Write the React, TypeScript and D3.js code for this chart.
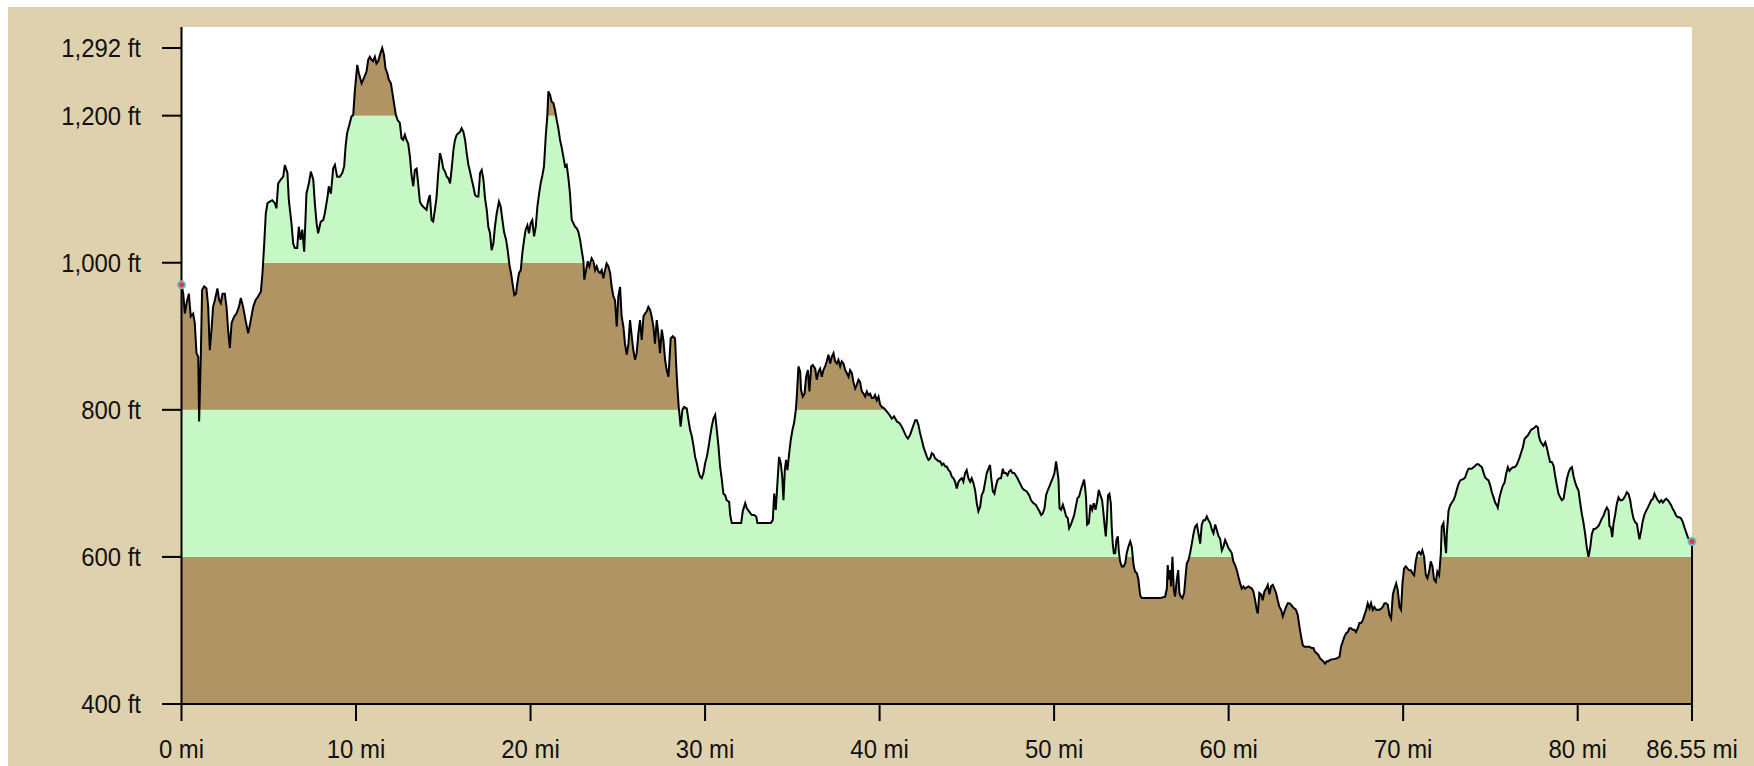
import React from 'react';
import * as d3 from 'd3';

const W = 1754;
const H = 766;

// Elevation profile: [distance (mi), elevation (ft)]
const profile: [number, number][] = [
  [0, 970], [0.1, 958], [0.19, 931], [0.29, 945], [0.42, 958], [0.53, 927], [0.67, 931], [0.76, 918],
  [0.86, 877], [0.96, 872], [1.01, 784], [1.11, 877], [1.18, 963], [1.3, 968], [1.43, 965], [1.53, 940],
  [1.62, 881], [1.72, 909], [1.81, 940], [1.91, 949], [2.06, 965], [2.16, 949], [2.25, 945], [2.35, 958],
  [2.48, 958], [2.58, 940], [2.67, 909], [2.77, 884], [2.87, 918], [3.02, 927], [3.15, 931], [3.29, 940],
  [3.4, 952], [3.53, 940], [3.67, 922], [3.82, 904], [3.97, 922], [4.11, 940], [4.24, 949], [4.39, 954],
  [4.55, 961], [4.64, 986], [4.74, 1026], [4.83, 1067], [4.93, 1081], [5.06, 1083], [5.2, 1085], [5.35, 1081],
  [5.44, 1074], [5.54, 1108], [5.69, 1113], [5.83, 1117], [5.92, 1133], [6.07, 1122], [6.15, 1085], [6.3, 1054],
  [6.4, 1026], [6.49, 1020], [6.63, 1020], [6.72, 1049], [6.82, 1031], [6.92, 1045], [7.03, 1015], [7.16, 1094],
  [7.3, 1108], [7.41, 1124], [7.55, 1113], [7.64, 1081], [7.74, 1054], [7.83, 1040], [7.98, 1056], [8.12, 1058],
  [8.21, 1067], [8.37, 1090], [8.44, 1104], [8.56, 1094], [8.69, 1128], [8.79, 1133], [8.92, 1117], [9.07, 1117],
  [9.21, 1122], [9.32, 1131], [9.4, 1158], [9.49, 1176], [9.61, 1187], [9.74, 1199], [9.84, 1201], [9.93, 1233],
  [10.07, 1269], [10.16, 1258], [10.32, 1244], [10.45, 1251], [10.6, 1260], [10.7, 1276], [10.79, 1280], [10.89, 1276],
  [10.98, 1274], [11.08, 1280], [11.17, 1271], [11.27, 1274], [11.4, 1285], [11.5, 1292], [11.6, 1283], [11.69, 1264],
  [11.79, 1258], [11.88, 1249], [12.0, 1244], [12.09, 1230], [12.19, 1215], [12.28, 1201], [12.38, 1194], [12.51, 1190],
  [12.61, 1169], [12.7, 1167], [12.8, 1174], [12.89, 1167], [12.99, 1162], [13.09, 1144], [13.18, 1119], [13.28, 1104],
  [13.37, 1126], [13.47, 1128], [13.56, 1108], [13.66, 1083], [13.75, 1079], [13.85, 1076], [13.94, 1074], [14.04, 1072],
  [14.14, 1085], [14.23, 1092], [14.33, 1058], [14.42, 1056], [14.52, 1072], [14.61, 1088], [14.71, 1122],
  [14.81, 1149], [14.91, 1140], [15.0, 1128], [15.1, 1124], [15.2, 1117], [15.29, 1115], [15.39, 1108], [15.48, 1128],
  [15.58, 1153], [15.67, 1167], [15.77, 1174], [15.86, 1176], [15.96, 1178], [16.05, 1183], [16.15, 1178], [16.25, 1167],
  [16.34, 1149], [16.44, 1133], [16.53, 1124], [16.63, 1113], [16.72, 1104], [16.82, 1092], [16.91, 1090], [17.01, 1090],
  [17.11, 1122], [17.2, 1126], [17.3, 1113], [17.39, 1088], [17.49, 1072], [17.58, 1049], [17.68, 1040], [17.77, 1017],
  [17.87, 1026], [17.96, 1049], [18.06, 1067], [18.19, 1083], [18.29, 1076], [18.39, 1058], [18.48, 1042], [18.6, 1031],
  [18.69, 1017], [18.79, 997], [18.88, 986], [18.98, 970], [19.07, 956], [19.17, 958], [19.24, 972], [19.34, 986],
  [19.44, 990], [19.53, 1013], [19.63, 1031], [19.72, 1045], [19.82, 1051], [19.91, 1040], [20.01, 1054], [20.1, 1058],
  [20.2, 1036], [20.3, 1049], [20.39, 1076], [20.49, 1094], [20.58, 1108], [20.68, 1119], [20.77, 1131], [20.87, 1172],
  [20.96, 1199], [21.02, 1233], [21.12, 1228], [21.21, 1219], [21.31, 1217], [21.4, 1208], [21.5, 1194], [21.59, 1183],
  [21.69, 1167], [21.79, 1156], [21.88, 1144], [21.98, 1131], [22.07, 1133], [22.17, 1115], [22.26, 1094], [22.36, 1058],
  [22.45, 1054], [22.55, 1049], [22.64, 1047], [22.74, 1042], [22.84, 1031], [22.93, 1017], [23.03, 1002], [23.08, 977],
  [23.18, 990], [23.28, 1002], [23.37, 995], [23.5, 1006], [23.6, 1002], [23.7, 990], [23.79, 995], [23.89, 988],
  [23.98, 986], [24.08, 990], [24.17, 979], [24.27, 990], [24.36, 999], [24.46, 995], [24.56, 986], [24.65, 967],
  [24.75, 954], [24.84, 949], [24.94, 913], [25.03, 954], [25.13, 967], [25.22, 927], [25.32, 913], [25.41, 890],
  [25.51, 875], [25.61, 890], [25.7, 922], [25.8, 900], [25.89, 881], [25.99, 868], [26.08, 877], [26.18, 904],
  [26.27, 922], [26.37, 895], [26.47, 927], [26.56, 931], [26.66, 934], [26.75, 940], [26.85, 936], [26.94, 927],
  [27.04, 913], [27.13, 890], [27.23, 922], [27.32, 904], [27.42, 877], [27.52, 909], [27.61, 895], [27.71, 868],
  [27.8, 854], [27.9, 845], [27.96, 868], [28.03, 897], [28.15, 900], [28.28, 897], [28.34, 863], [28.41, 832],
  [28.49, 804], [28.6, 777], [28.7, 800], [28.8, 804], [28.95, 802], [29.05, 786], [29.14, 773], [29.24, 764],
  [29.33, 752], [29.43, 736], [29.53, 727], [29.62, 716], [29.72, 709], [29.81, 707], [29.91, 714], [30.0, 727],
  [30.1, 736], [30.19, 748], [30.29, 764], [30.38, 777], [30.48, 788], [30.58, 793], [30.67, 773], [30.77, 750],
  [30.86, 723], [30.96, 705], [31.05, 686], [31.15, 684], [31.24, 677], [31.38, 675], [31.44, 657], [31.53, 646],
  [31.72, 646], [31.91, 646], [32.07, 646], [32.16, 662], [32.3, 673], [32.39, 666], [32.52, 662], [32.68, 657],
  [32.81, 657], [32.93, 655], [33.0, 646], [33.25, 646], [33.54, 646], [33.77, 646], [33.88, 650], [33.96, 686],
  [34.05, 664], [34.15, 702], [34.24, 736], [34.34, 727], [34.42, 709], [34.49, 677], [34.57, 718], [34.64, 732],
  [34.72, 718], [34.82, 741], [34.91, 759], [35.01, 773], [35.1, 782], [35.2, 800], [35.26, 820], [35.35, 859],
  [35.45, 852], [35.5, 827], [35.6, 818], [35.7, 822], [35.79, 845], [35.89, 854], [35.98, 825], [36.08, 859],
  [36.17, 861], [36.31, 856], [36.4, 841], [36.5, 852], [36.59, 856], [36.69, 845], [36.78, 854], [36.88, 859],
  [36.97, 866], [37.07, 875], [37.17, 863], [37.26, 872], [37.36, 877], [37.45, 866], [37.55, 863], [37.64, 868],
  [37.74, 859], [37.83, 866], [37.93, 863], [38.03, 854], [38.12, 850], [38.22, 845], [38.31, 854], [38.41, 850],
  [38.5, 838], [38.6, 829], [38.69, 834], [38.79, 841], [38.88, 838], [38.98, 825], [39.08, 822], [39.17, 818],
  [39.27, 825], [39.36, 820], [39.46, 822], [39.55, 816], [39.65, 816], [39.74, 820], [39.84, 813], [39.94, 818],
  [40.03, 807], [40.13, 804], [40.26, 802], [40.41, 798], [40.57, 793], [40.7, 788], [40.83, 791], [40.99, 784],
  [41.14, 782], [41.27, 777], [41.41, 770], [41.52, 764], [41.62, 761], [41.75, 766], [41.85, 773], [41.94, 779],
  [42.04, 786], [42.13, 786], [42.23, 779], [42.32, 768], [42.42, 759], [42.51, 750], [42.61, 743], [42.71, 736],
  [42.8, 732], [42.9, 734], [42.99, 741], [43.09, 739], [43.18, 734], [43.28, 732], [43.37, 730], [43.47, 730],
  [43.57, 725], [43.66, 727], [43.76, 723], [43.85, 723], [43.95, 718], [44.04, 716], [44.14, 709], [44.23, 707],
  [44.33, 702], [44.42, 693], [44.52, 702], [44.61, 705], [44.71, 707], [44.8, 702], [44.9, 714], [44.99, 718],
  [45.09, 707], [45.19, 702], [45.28, 707], [45.38, 700], [45.47, 691], [45.57, 673], [45.66, 662], [45.76, 668],
  [45.85, 684], [45.95, 689], [46.05, 702], [46.14, 714], [46.24, 720], [46.33, 725], [46.39, 709], [46.49, 689],
  [46.58, 686], [46.68, 698], [46.77, 705], [46.87, 707], [46.96, 707], [47.06, 720], [47.13, 714], [47.23, 714],
  [47.33, 711], [47.42, 716], [47.52, 718], [47.61, 714], [47.71, 714], [47.8, 711], [47.9, 707], [48.0, 702],
  [48.09, 698], [48.19, 693], [48.28, 691], [48.43, 689], [48.57, 684], [48.68, 677], [48.82, 673], [48.95, 671],
  [49.06, 666], [49.16, 662], [49.26, 657], [49.35, 659], [49.45, 666], [49.54, 684], [49.64, 691], [49.73, 696],
  [49.83, 702], [49.92, 707], [50.02, 714], [50.11, 730], [50.17, 720], [50.25, 705], [50.31, 666], [50.4, 664],
  [50.5, 671], [50.59, 664], [50.69, 655], [50.78, 653], [50.86, 639], [50.96, 644], [51.05, 650], [51.15, 657],
  [51.24, 668], [51.34, 680], [51.43, 682], [51.53, 691], [51.62, 698], [51.72, 705], [51.78, 693], [51.83, 680],
  [51.89, 644], [51.99, 646], [52.08, 671], [52.18, 664], [52.27, 673], [52.37, 664], [52.46, 675], [52.56, 691],
  [52.65, 684], [52.75, 677], [52.83, 659], [52.9, 641], [52.96, 628], [53.02, 650], [53.09, 684], [53.17, 686],
  [53.25, 673], [53.3, 641], [53.36, 618], [53.42, 605], [53.5, 605], [53.57, 623], [53.65, 628], [53.71, 607],
  [53.78, 594], [53.88, 587], [53.97, 587], [54.07, 591], [54.16, 605], [54.26, 614], [54.36, 621], [54.45, 614],
  [54.55, 589], [54.64, 580], [54.74, 578], [54.83, 569], [54.93, 548], [55.02, 544], [55.31, 544], [55.69, 544],
  [56.07, 544], [56.36, 546], [56.46, 557], [56.51, 589], [56.57, 569], [56.65, 582], [56.7, 560], [56.78, 600],
  [56.86, 555], [56.93, 546], [57.03, 569], [57.11, 582], [57.18, 551], [57.26, 546], [57.35, 544], [57.45, 551],
  [57.53, 573], [57.6, 591], [57.7, 596], [57.79, 605], [57.89, 618], [57.99, 632], [58.08, 641], [58.18, 644],
  [58.27, 632], [58.37, 618], [58.46, 644], [58.56, 650], [58.65, 650], [58.75, 655], [58.84, 650], [58.94, 646],
  [59.04, 637], [59.13, 632], [59.23, 644], [59.32, 637], [59.42, 628], [59.51, 625], [59.61, 609], [59.7, 614],
  [59.8, 623], [59.89, 618], [59.99, 612], [60.08, 609], [60.18, 605], [60.27, 594], [60.37, 589], [60.47, 582],
  [60.56, 573], [60.66, 564], [60.75, 557], [60.85, 560], [60.94, 557], [61.13, 560], [61.33, 557], [61.42, 553],
  [61.52, 541], [61.61, 528], [61.67, 523], [61.76, 551], [61.86, 549], [61.95, 541], [62.05, 553], [62.15, 557],
  [62.24, 562], [62.34, 549], [62.43, 560], [62.53, 562], [62.62, 557], [62.72, 551], [62.81, 541], [62.91, 532],
  [63.01, 528], [63.1, 519], [63.2, 526], [63.29, 532], [63.39, 537], [63.48, 537], [63.58, 535], [63.67, 532],
  [63.77, 530], [63.86, 528], [63.96, 521], [64.06, 505], [64.15, 492], [64.25, 480], [64.34, 478], [64.48, 478],
  [64.63, 478], [64.76, 476], [64.86, 476], [64.95, 471], [65.05, 469], [65.14, 467], [65.24, 462], [65.34, 460],
  [65.43, 458], [65.53, 455], [65.62, 458], [65.72, 458], [65.81, 460], [66.01, 461], [66.2, 462], [66.35, 464],
  [66.44, 478], [66.54, 485], [66.64, 492], [66.73, 496], [66.83, 498], [66.92, 503], [67.02, 503], [67.11, 501],
  [67.21, 501], [67.3, 498], [67.4, 503], [67.49, 510], [67.59, 510], [67.69, 514], [67.78, 521], [67.88, 528],
  [67.97, 537], [68.07, 530], [68.16, 537], [68.26, 528], [68.35, 532], [68.45, 528], [68.55, 528], [68.64, 528],
  [68.74, 530], [68.83, 532], [68.93, 537], [69.02, 537], [69.12, 535], [69.21, 521], [69.31, 516], [69.41, 549],
  [69.5, 557], [69.6, 564], [69.69, 555], [69.79, 532], [69.88, 528], [69.96, 564], [70.05, 584], [70.15, 587],
  [70.25, 584], [70.34, 582], [70.44, 582], [70.53, 578], [70.63, 575], [70.72, 594], [70.82, 605], [70.91, 607],
  [71.01, 603], [71.1, 609], [71.2, 600], [71.3, 575], [71.39, 571], [71.49, 580], [71.58, 594], [71.68, 587],
  [71.77, 569], [71.87, 566], [71.96, 580], [72.06, 575], [72.16, 605], [72.21, 641], [72.31, 646], [72.4, 618],
  [72.46, 605], [72.5, 631], [72.6, 663], [72.69, 670], [72.79, 674], [72.88, 677], [72.98, 683], [73.08, 692],
  [73.17, 699], [73.27, 704], [73.36, 705], [73.46, 706], [73.55, 708], [73.65, 715], [73.74, 720], [73.84, 720],
  [73.93, 720], [74.03, 722], [74.13, 724], [74.22, 726], [74.32, 726], [74.41, 724], [74.51, 722], [74.6, 715],
  [74.7, 708], [74.79, 706], [74.89, 704], [74.99, 697], [75.08, 688], [75.18, 681], [75.27, 674], [75.37, 670],
  [75.42, 667], [75.52, 681], [75.62, 690], [75.71, 697], [75.81, 701], [75.9, 713], [76.0, 722], [76.09, 717],
  [76.19, 720], [76.28, 722], [76.38, 722], [76.48, 724], [76.57, 729], [76.67, 735], [76.76, 742], [76.86, 749],
  [76.95, 760], [77.05, 763], [77.14, 765], [77.24, 769], [77.33, 773], [77.43, 774], [77.53, 776], [77.62, 778],
  [77.72, 776], [77.77, 765], [77.85, 758], [77.95, 754], [78.04, 751], [78.14, 756], [78.23, 749], [78.33, 738],
  [78.42, 729], [78.52, 729], [78.62, 724], [78.71, 710], [78.81, 697], [78.9, 686], [79.0, 681], [79.09, 677],
  [79.19, 679], [79.28, 692], [79.38, 706], [79.48, 715], [79.57, 720], [79.67, 722], [79.76, 710], [79.86, 701],
  [79.95, 695], [80.05, 690], [80.14, 674], [80.24, 658], [80.33, 647], [80.43, 631], [80.52, 613], [80.62, 600],
  [80.72, 613], [80.81, 631], [80.91, 638], [81.0, 638], [81.1, 640], [81.19, 642], [81.29, 647], [81.38, 652],
  [81.48, 656], [81.58, 663], [81.67, 667], [81.77, 663], [81.82, 642], [81.9, 640], [81.98, 627], [82.05, 645],
  [82.15, 658], [82.24, 672], [82.34, 681], [82.44, 677], [82.53, 677], [82.63, 679], [82.72, 683], [82.82, 688],
  [82.91, 686], [83.01, 677], [83.1, 663], [83.2, 652], [83.3, 647], [83.39, 645], [83.49, 631], [83.54, 624],
  [83.64, 636], [83.73, 649], [83.83, 658], [83.93, 663], [84.02, 667], [84.12, 672], [84.21, 677], [84.31, 679],
  [84.4, 686], [84.5, 681], [84.59, 677], [84.69, 674], [84.79, 677], [84.88, 674], [84.98, 677], [85.07, 679],
  [85.17, 677], [85.26, 674], [85.36, 670], [85.45, 665], [85.55, 661], [85.64, 656], [85.74, 654], [85.84, 654],
  [85.93, 652], [86.03, 647], [86.12, 640], [86.22, 633], [86.31, 627], [86.41, 622], [86.55, 621],
];

const xTickValues = [0, 10, 20, 30, 40, 50, 60, 70, 80, 86.55];
const xTickLabels = ['0 mi', '10 mi', '20 mi', '30 mi', '40 mi', '50 mi', '60 mi', '70 mi', '80 mi', '86.55 mi'];
const yTickValues = [400, 600, 800, 1000, 1200, 1292];
const yTickLabels = ['400 ft', '600 ft', '800 ft', '1,000 ft', '1,200 ft', '1,292 ft'];
const bandEdges = [400, 600, 800, 1000, 1200, 1400];

const TAN = '#dfd1ae';
const BROWN = '#b09464';
const GREEN = '#c6f8c6';
const bandColors = [BROWN, GREEN, BROWN, GREEN, BROWN];

const PLOT = { left: 181.5, right: 1692, top: 27, bottom: 704 };

const FONT = '"Liberation Sans", Arial, sans-serif';

export default function App() {
  const x = d3.scaleLinear().domain([0, 86.55]).range([PLOT.left, PLOT.right]);
  const y = d3.scaleLinear().domain([400, 1292]).range([PLOT.bottom, 48]);

  const area = d3
    .area<[number, number]>()
    .x((d) => x(d[0]))
    .y0(y(400))
    .y1((d) => y(d[1]))
    .curve(d3.curveLinear);
  const line = d3
    .line<[number, number]>()
    .x((d) => x(d[0]))
    .y((d) => y(d[1]))
    .curve(d3.curveLinear);

  const last = profile[profile.length - 1];
  const first = profile[0];
  const outline = (line(profile) || '') + `L${x(last[0])},${y(400)}`;

  return (
    <svg
      width={W}
      height={H}
      viewBox={`0 0 ${W} ${H}`}
      style={{ position: 'absolute', left: 0, top: 0, display: 'block' }}
    >
      <rect x={0} y={0} width={W} height={H} fill="#ffffff" />
      <rect x={8} y={7} width={W - 8} height={H - 7} fill={TAN} />
      <rect
        x={PLOT.left}
        y={PLOT.top}
        width={PLOT.right - PLOT.left}
        height={PLOT.bottom - PLOT.top}
        fill="#ffffff"
      />
      <defs>
        <clipPath id="terrainClip">
          <path d={area(profile) || ''} />
        </clipPath>
      </defs>
      <g clipPath="url(#terrainClip)">
        {bandColors.map((c, i) => (
          <rect
            key={i}
            x={PLOT.left}
            y={Math.max(PLOT.top, y(bandEdges[i + 1]))}
            width={PLOT.right - PLOT.left}
            height={y(bandEdges[i]) - Math.max(PLOT.top, y(bandEdges[i + 1]))}
            fill={c}
          />
        ))}
      </g>
      <path d={outline} fill="none" stroke="#000" strokeWidth={2} strokeLinejoin="miter" />

      {/* axes */}
      <line x1={PLOT.left} y1={PLOT.top} x2={PLOT.left} y2={PLOT.bottom} stroke="#000" strokeWidth={2} />
      <line x1={PLOT.left} y1={PLOT.bottom} x2={PLOT.right} y2={PLOT.bottom} stroke="#000" strokeWidth={2} />

      {yTickValues.map((v, i) => (
        <g key={'y' + i}>
          <line x1={162} x2={PLOT.left} y1={y(v)} y2={y(v)} stroke="#000" strokeWidth={2} />
          <text
            transform={`translate(141,${y(v) + 9}) scale(0.92,1)`}
            textAnchor="end"
            fontFamily={FONT}
            fontSize={26}
            fill="#111"
          >
            {yTickLabels[i]}
          </text>
        </g>
      ))}

      {xTickValues.map((v, i) => (
        <g key={'x' + i}>
          <line x1={x(v)} x2={x(v)} y1={PLOT.bottom} y2={721} stroke="#000" strokeWidth={2} />
          <text
            transform={`translate(${x(v)},758) scale(0.92,1)`}
            textAnchor="middle"
            fontFamily={FONT}
            fontSize={26}
            fill="#111"
          >
            {xTickLabels[i]}
          </text>
        </g>
      ))}

      {/* start / end markers */}
      {[first, last].map((d, i) => (
        <circle key={'m' + i} cx={x(d[0])} cy={y(d[1])} r={3.5} fill="#e03a3a" stroke="#6ab8c4" strokeWidth={2} />
      ))}
    </svg>
  );
}
